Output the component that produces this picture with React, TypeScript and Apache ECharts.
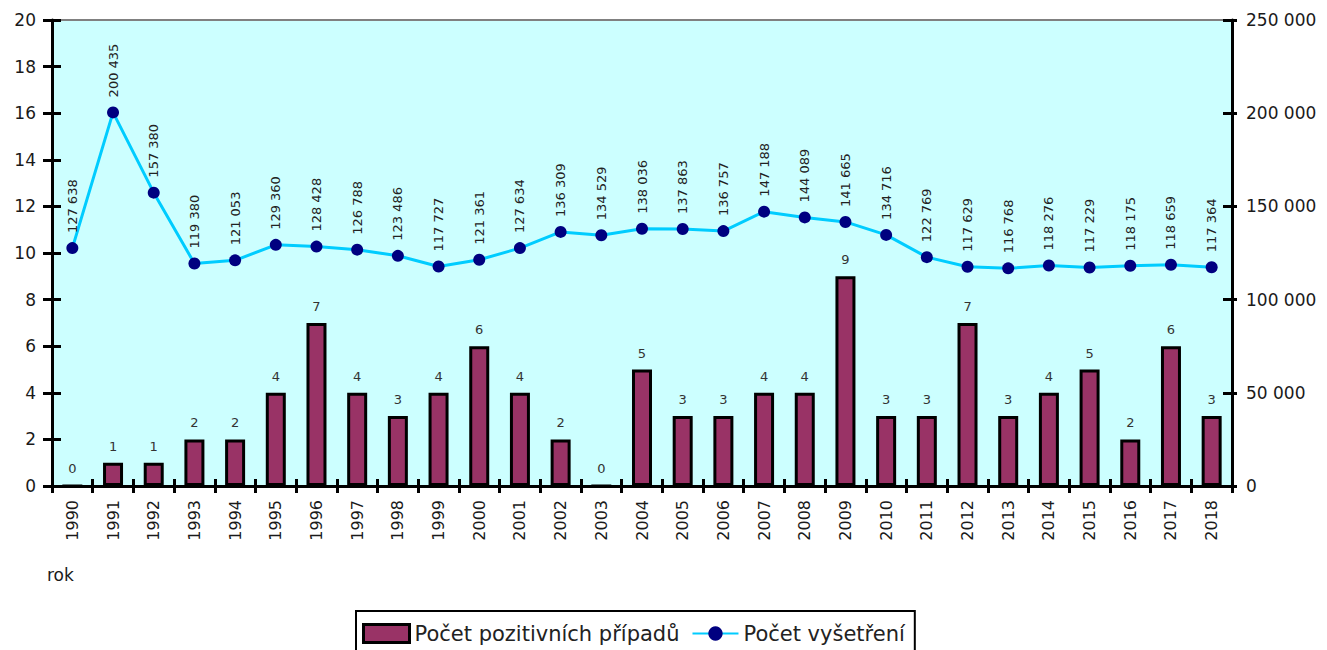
import React, { useEffect, useRef } from "react";
import * as echarts from "echarts";

const years = [
  "1990", "1991", "1992", "1993", "1994", "1995", "1996", "1997", "1998", "1999",
  "2000", "2001", "2002", "2003", "2004", "2005", "2006", "2007", "2008", "2009",
  "2010", "2011", "2012", "2013", "2014", "2015", "2016", "2017", "2018",
];

const positives = [0, 1, 1, 2, 2, 4, 7, 4, 3, 4, 6, 4, 2, 0, 5, 3, 3, 4, 4, 9, 3, 3, 7, 3, 4, 5, 2, 6, 3];

const exams = [
  127638, 200435, 157380, 119380, 121053, 129360, 128428, 126788, 123486, 117727,
  121361, 127634, 136309, 134529, 138036, 137863, 136757, 147188, 144089, 141665,
  134716, 122769, 117629, 116768, 118276, 117229, 118175, 118659, 117364,
];

const leftTicks = { min: 0, max: 20, interval: 2 };
const rightTicks = { min: 0, max: 250000, interval: 50000 };

const seriesNames = ["Počet pozitivních případů", "Počet vyšetření"];
const xAxisTitle = "rok";

const fmtThousands = (v: number) =>
  String(Math.round(v)).replace(/\B(?=(\d{3})+(?!\d))/g, " ");

export default function App() {
  const ref = useRef<HTMLDivElement>(null);

  useEffect(() => {
    document.body.style.margin = "0";
    if (!ref.current) return;
    const chart = echarts.init(ref.current, undefined, { renderer: "svg" });
    const font = "DejaVu Sans";
    const axisColor = "#000";
    const labelColor = "#1a1a1a";

    chart.setOption({
      animation: false,
      textStyle: { fontFamily: font },
      grid: {
        left: 52,
        right: 95,
        top: 20,
        bottom: 164,
        show: true,
        backgroundColor: "#CCFFFF",
        borderColor: "#808080",
        borderWidth: 2,
        containLabel: false,
      },
      legend: {
        left: 356,
        top: 611,
        orient: "horizontal",
        borderColor: "#000",
        borderWidth: 2,
        padding: [12, 10, 14, 6],
        itemWidth: 46,
        itemHeight: 18,
        itemGap: 12,
        textStyle: { fontSize: 21, color: "#222", fontFamily: font },
        data: [
          {
            name: seriesNames[0],
            icon: "rect",
            itemStyle: { color: "#993366", borderColor: "#000", borderWidth: 3 },
          },
          { name: seriesNames[1] },
        ],
      },
      graphic: [
        {
          type: "text",
          left: 47,
          top: 566,
          style: { text: xAxisTitle, fontSize: 17, fill: labelColor, fontFamily: font },
        },
      ],
      xAxis: [
        {
          type: "category",
          data: years,
          position: "bottom",
          boundaryGap: true,
          axisLine: { show: true, lineStyle: { color: axisColor, width: 3 } },
          axisTick: { show: true, length: 7, inside: false, lineStyle: { color: axisColor, width: 3 } },
          axisLabel: {
            rotate: 90,
            interval: 0,
            fontSize: 16,
            margin: 14,
            color: labelColor,
            fontFamily: font,
          },
          splitLine: { show: false },
        },
        {
          type: "category",
          data: years,
          position: "bottom",
          boundaryGap: true,
          axisLine: { show: false },
          axisTick: { show: true, length: 7, inside: true, lineStyle: { color: axisColor, width: 3 } },
          axisLabel: { show: false },
          splitLine: { show: false },
        },
      ],
      yAxis: [
        {
          type: "value",
          position: "left",
          ...leftTicks,
          axisLine: { show: true, lineStyle: { color: axisColor, width: 3 } },
          axisTick: { show: true, length: 9, inside: false, lineStyle: { color: axisColor, width: 3 } },
          axisLabel: { fontSize: 17, margin: 16, color: labelColor, fontFamily: font },
          splitLine: { show: false },
        },
        {
          type: "value",
          position: "right",
          ...rightTicks,
          axisLine: { show: true, lineStyle: { color: axisColor, width: 3 } },
          axisTick: { show: true, length: 5, inside: false, lineStyle: { color: axisColor, width: 3 } },
          axisLabel: {
            fontSize: 17,
            margin: 14,
            color: labelColor,
            fontFamily: font,
            formatter: (v: number) => fmtThousands(v),
          },
          splitLine: { show: false },
        },
        {
          type: "value",
          position: "left",
          ...leftTicks,
          axisLine: { show: false },
          axisTick: { show: true, length: 9, inside: true, lineStyle: { color: axisColor, width: 3 } },
          axisLabel: { show: false },
          splitLine: { show: false },
        },
        {
          type: "value",
          position: "right",
          ...rightTicks,
          axisLine: { show: false },
          axisTick: { show: true, length: 9, inside: true, lineStyle: { color: axisColor, width: 3 } },
          axisLabel: { show: false },
          splitLine: { show: false },
        },
      ],
      series: [
        {
          name: seriesNames[0],
          type: "bar",
          xAxisIndex: 0,
          yAxisIndex: 0,
          data: positives,
          barWidth: 20,
          itemStyle: { color: "#993366", borderColor: "#000", borderWidth: 3 },
          label: {
            show: true,
            position: "top",
            distance: 10,
            fontSize: 13,
            color: "#333",
            fontFamily: font,
          },
          z: 2,
        },
        {
          name: seriesNames[1],
          type: "line",
          xAxisIndex: 0,
          yAxisIndex: 1,
          data: exams,
          symbol: "circle",
          symbolSize: 12,
          lineStyle: { color: "#00CCFF", width: 3 },
          itemStyle: { color: "#000080" },
          label: {
            show: true,
            position: "top",
            rotate: 90,
            align: "left",
            verticalAlign: "middle",
            distance: 9,
            fontSize: 13,
            color: "#222",
            fontFamily: font,
            formatter: (p: any) => fmtThousands(p.value),
          },
          z: 3,
        },
      ],
    });

    return () => {
      chart.dispose();
    };
  }, []);

  return <div ref={ref} style={{ width: 1327, height: 650 }} />;
}
